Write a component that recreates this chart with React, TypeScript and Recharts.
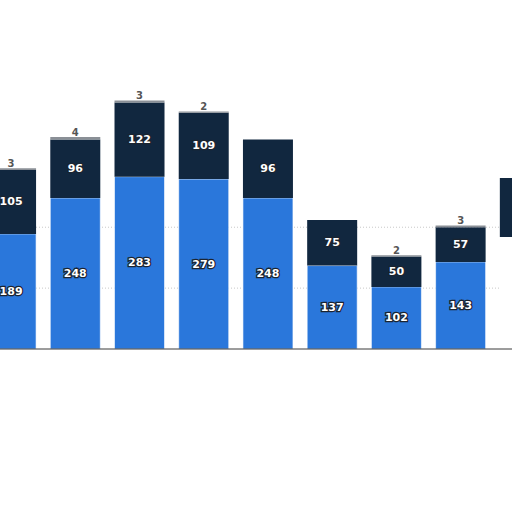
import { BarChart, Bar, XAxis, YAxis, CartesianGrid, LabelList, Cell } from "recharts";

const categories = ["c1", "c2", "c3", "c4", "c5", "c6", "c7", "c8", "c9"];
const lower = [189, 248, 283, 279, 248, 137, 102, 143, 184];
const upper = [105, 96, 122, 109, 96, 75, 50, 57, 97];
const extra = [3, 4, 3, 2, 0, 0, 2, 3, 0];
const gridTicks = [0, 100, 200];

const data = categories.map((name, i) => ({
    name,
    lower: lower[i],
    upper: upper[i],
    extra: extra[i],
}));

// the last bar is cut by the right edge, its labels are not shown
const inside = (props: any) => {
    const { x, y, width, height, value, index } = props;
    if (!value || index === 8) return null;
    return (
        <text
            x={x + width / 2}
            y={y + height / 2}
            textAnchor="middle"
            dominantBaseline="central"
            fontFamily="DejaVu Sans"
            fontWeight="bold"
            fontSize={11}
            fill="#ffffff"
            stroke="#1b2430"
            strokeWidth={2.5}
            paintOrder="stroke"
        >
            {value}
        </text>
    );
};

const above = (props: any) => {
    const { x, y, width, value, index } = props;
    if (!value || index === 8) return null;
    return (
        <text
            x={x + width / 2}
            y={y - 5}
            textAnchor="middle"
            dominantBaseline="central"
            fontFamily="DejaVu Sans"
            fontWeight="bold"
            fontSize={10}
            fill="#555555"
            stroke="#ffffff"
            strokeWidth={2}
            paintOrder="stroke"
        >
            {value}
        </text>
    );
};

export default function App() {
    return (
        <div style={{ position: "absolute", left: 0, top: 0, width: 512, height: 512, overflow: "hidden", background: "#fff" }}>
            <div style={{ position: "absolute", left: -21, top: 75 }}>
                <BarChart width={578} height={275} data={data} margin={{ top: 0, right: 0, bottom: 0, left: 0 }} barCategoryGap="11%">
                    <CartesianGrid vertical={false} stroke="#c8c8c8" strokeDasharray="1 2" syncWithTicks />
                    <XAxis dataKey="name" tick={false} tickLine={false} height={1} axisLine={{ stroke: "#3a3a3a" }} />
                    <YAxis hide domain={[0, 450]} ticks={gridTicks} />
                    <Bar dataKey="lower" stackId="a" fill="#2a77db" stroke="#ffffff" strokeWidth={0.6} isAnimationActive={false}>
                        {data.map((_, i) => (
                            <Cell key={i} fill={i === 8 ? "#ffffff" : "#2a77db"} />
                        ))}
                        <LabelList dataKey="lower" content={inside} />
                    </Bar>
                    <Bar dataKey="upper" stackId="a" fill="#11273f" isAnimationActive={false}>
                        <LabelList dataKey="upper" content={inside} />
                    </Bar>
                    <Bar dataKey="extra" stackId="a" fill="#8a8f96" isAnimationActive={false}>
                        <LabelList dataKey="extra" content={above} />
                    </Bar>
                </BarChart>
            </div>
        </div>
    );
}
